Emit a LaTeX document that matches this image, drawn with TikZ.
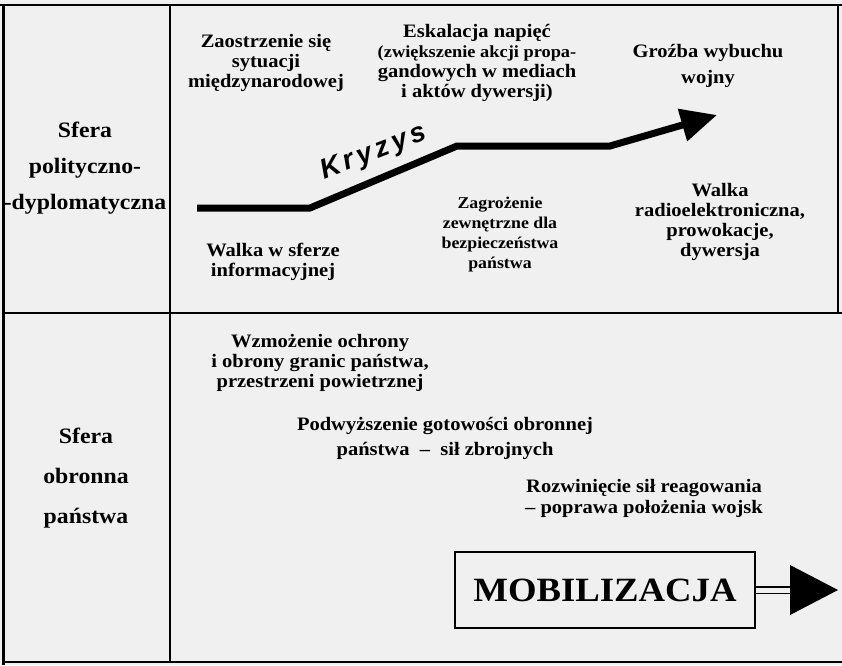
\documentclass[tikz,border=0pt]{standalone}
\usepackage{fontspec}
\setmainfont{Liberation Serif}[FakeStretch=1.08]
\newfontfamily\kryzysfont{Liberation Sans}[LetterSpace=14]
\usepackage{tikz}
\usetikzlibrary{arrows.meta}
\usetikzlibrary{calc}

\begin{document}
\begin{tikzpicture}[x=1pt,y=-1pt,
    etiq/.style={align=center,inner sep=0pt,font=\bfseries\fontsize{19}{20}\selectfont},
    petit/.style={align=center,inner sep=0pt,font=\bfseries\fontsize{16.5}{20}\selectfont},
    sfera/.style={align=center,inner sep=0pt,font=\bfseries\fontsize{22}{36}\selectfont}]
                 \fill[black!6] (0,0) rectangle (842,665);
                 \useasboundingbox (0,0) rectangle (842,665);
                 % tableau
                 \draw[line width=2.5pt] (0,5) -- (842,5);
                 \draw[line width=3pt] (3,5) -- (3,665);
                 \draw[line width=2pt] (838,5) -- (838,313);
                 \draw[line width=1.5pt] (170,5) -- (170,662);
                 \draw[line width=2.2pt] (3,313) -- (842,313);
                 \draw[line width=1.5pt] (3,662) -- (842,662);
                 % colonne de gauche
                 \node[sfera] (S1) at (85,168) {Sfera\\polityczno-\\-dyplomatyczna};
                 \node[sfera,font=\bfseries\fontsize{22}{40}\selectfont] (S2) at (86,478) {Sfera\\obronna\\państwa};
                 % kryzys
                 \coordinate (K1) at (197,208);
                 \coordinate (K2) at (310,208);
                 \coordinate (K3) at (457,146);
                 \coordinate (K4) at (610,146);
                 \coordinate (K5) at (717,115);
                 \draw[line width=7pt,-{Triangle[length=36pt,width=32pt]}] (K1) -- (K2) -- (K3) -- (K4) -- (K5);
                 \node[rotate=21,inner sep=0pt,font=\kryzysfont\bfseries\itshape\fontsize{28}{28}\selectfont] (kryzys) at (374,153) {Kryzys};
                 \node[etiq] (zaos) at (266,63) {Zaostrzenie się\\sytuacji\\międzynarodowej};
                 \node[etiq] (eskal) at (477,63) {Eskalacja napięć\\\fontsize{17}{20}\selectfont(zwiększenie akcji propa-\\gandowych w mediach\\i aktów dywersji)};
                 \node[etiq,font=\bfseries\fontsize{19}{26}\selectfont] (groz) at (708,66) {Groźba wybuchu\\wojny};
                 \node[etiq] (info) at (273,262) {Walka w sferze\\informacyjnej};
                 \node[petit] (zagr) at (500,235) {Zagrożenie\\zewnętrzne dla\\bezpieczeństwa\\państwa};
                 \node[etiq] (radio) at (720,222) {Walka\\radioelektroniczna,\\prowokacje,\\dywersja};
                 % sfera obronna
                 \node[etiq] (ochr) at (320,363) {Wzmożenie ochrony\\i obrony granic państwa,\\przestrzeni powietrznej};
                 \node[etiq,font=\bfseries\fontsize{19}{25}\selectfont] (gotow) at (445,438) {Podwyższenie gotowości obronnej\\państwa \ -- \ sił zbrojnych};
                 \node[etiq,font=\bfseries\fontsize{19}{21}\selectfont] (rozw) at (644,498) {Rozwinięcie sił reagowania\\-- poprawa położenia wojsk};
                 \node[draw,line width=2.5pt,minimum width=300pt,minimum height=76pt,inner sep=0pt,font=\bfseries\fontsize{34}{34}\selectfont] (mob) at (605,590) {MOBILIZACJA};
                 \coordinate (M1) at (790,590);
                 \coordinate (M2) at (838,590);
                 \draw[line width=1.8pt,double=black!6,double distance=5pt] (mob.east) -- (M1);
                 \fill ($(M1)+(0,-25)$) -- (M2) -- ($(M1)+(0,25)$) -- cycle;
            \end{tikzpicture}
\end{document}
